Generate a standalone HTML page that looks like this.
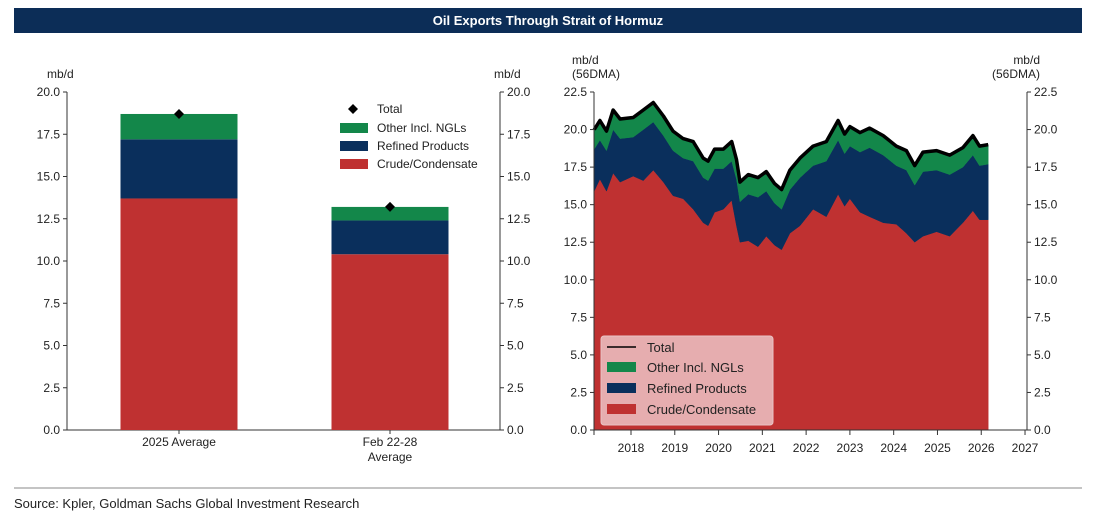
<!DOCTYPE html>
<html><head><meta charset="utf-8"><style>
body{margin:0;background:#fff;width:1101px;height:522px;overflow:hidden;font-family:"Liberation Sans",sans-serif}
svg text{font-family:"Liberation Sans",sans-serif}
</style></head><body>
<svg id="c" width="1101" height="522" xmlns="http://www.w3.org/2000/svg">
<rect x="14" y="8" width="1068" height="25" fill="#0c2d57"/>
<text x="548" y="25" fill="#fff" font-size="13" font-weight="bold" text-anchor="middle">Oil Exports Through Strait of Hormuz</text>
<line x1="14" y1="488" x2="1082" y2="488" stroke="#888" stroke-width="1"/>
<text x="14" y="508" font-size="13" fill="#222">Source: Kpler, Goldman Sachs Global Investment Research</text>
<g id="left"></g><g id="right"></g>
</svg>
<script>
const barCats=["2025 Average","Feb 22-28\nAverage"];
const barCrude=[13.7,10.4];
const barRefined=[3.5,2.0];
const barOther=[1.5,0.8];
const barTotal=[18.7,13.2];
const lYTicks=[0,2.5,5,7.5,10,12.5,15,17.5,20];

const years=[2017.16,2017.29,2017.44,2017.59,2017.75,2018.05,2018.28,2018.51,2018.74,2018.96,2019.19,2019.42,2019.65,2019.76,2019.91,2020.11,2020.30,2020.41,2020.49,2020.68,2020.90,2021.09,2021.28,2021.44,2021.63,2021.86,2022.16,2022.46,2022.73,2022.88,2023.00,2023.23,2023.45,2023.76,2024.06,2024.29,2024.48,2024.67,2024.98,2025.28,2025.58,2025.81,2025.96,2026.16];
const crude=[15.9,16.7,15.9,17.1,16.5,16.9,16.6,17.3,16.5,15.6,15.4,14.7,13.8,13.6,14.5,14.7,15.3,13.6,12.5,12.6,12.2,12.9,12.3,12.0,13.1,13.6,14.7,14.2,15.7,14.9,15.4,14.5,14.2,13.8,13.7,13.1,12.5,12.9,13.2,12.9,13.8,14.6,14.0,14.0];
const refined=[2.8,2.6,2.7,2.9,2.9,2.6,3.4,3.2,3.1,3.0,2.7,3.2,3.0,3.0,2.9,2.7,2.6,3.1,2.7,3.1,3.3,3.0,2.8,2.7,2.9,3.2,2.9,3.7,3.6,3.5,3.5,4.0,4.6,4.5,3.9,4.2,3.8,4.3,4.1,4.1,3.7,3.7,3.6,3.7];
const other=[1.3,1.3,1.3,1.3,1.3,1.3,1.3,1.3,1.3,1.3,1.3,1.3,1.3,1.3,1.3,1.3,1.3,1.3,1.3,1.3,1.3,1.3,1.3,1.3,1.3,1.3,1.3,1.3,1.3,1.3,1.3,1.3,1.3,1.3,1.3,1.3,1.3,1.3,1.3,1.3,1.3,1.3,1.3,1.3];
const rYTicks=[0,2.5,5,7.5,10,12.5,15,17.5,20,22.5];
const xTicks=[2018,2019,2020,2021,2022,2023,2024,2025,2026,2027];

const NS="http://www.w3.org/2000/svg";
const RED="#bf3131",NAVY="#0a2f5c",GREEN="#13874a";
function mk(p,t,a,txt){const e=document.createElementNS(NS,t);for(const k in a)e.setAttribute(k,a[k]);if(txt!==undefined)e.textContent=txt;p.appendChild(e);return e;}

// LEFT
const L=document.getElementById('left');
const lx0=67,lx1=500,y0=430,yTop=92;
const ly=v=>y0-(v/20)*(y0-yTop);
const barCx=[179,390],bw=117;
let e;
e=mk(L,'line',{x1:lx0,y1:yTop,x2:lx0,y2:y0,stroke:'#333'});


e=mk(L,'line',{x1:lx1,y1:yTop,x2:lx1,y2:y0,stroke:'#333'});


e=mk(L,'line',{x1:lx0,y1:y0,x2:lx1,y2:y0,stroke:'#333'});


lYTicks.forEach(v=>{const y=ly(v);
 mk(L,'line',{x1:lx0-4,y1:y,x2:lx0,y2:y,stroke:'#333'});
 mk(L,'line',{x1:lx1,y1:y,x2:lx1+4,y2:y,stroke:'#333'});
 e=mk(L,'text',{x:lx0-7,y:y+4,'font-size':12,'text-anchor':'end',fill:'#222'},v.toFixed(1));
 
 
 e=mk(L,'text',{x:lx1+7,y:y+4,'font-size':12,fill:'#222'},v.toFixed(1));
 
 
});
e=mk(L,'text',{x:47,y:78,'font-size':12,fill:'#222'},'mb/d');


e=mk(L,'text',{x:494,y:78,'font-size':12,fill:'#222'},'mb/d');


barCats.forEach((c,i)=>{
 const cx=barCx[i],x=cx-bw/2;
 const s=[[0,barCrude[i],RED,'crude'],[barCrude[i],barCrude[i]+barRefined[i],NAVY,'refined'],[barCrude[i]+barRefined[i],barCrude[i]+barRefined[i]+barOther[i],GREEN,'other']];
 s.forEach(q=>{e=mk(L,'rect',{x:x,y:ly(q[1]),width:bw,height:ly(q[0])-ly(q[1]),fill:q[2]});
  
  });
 const ty=ly(barTotal[i]);
 e=mk(L,'path',{d:`M${cx} ${ty-5}L${cx+5} ${ty}L${cx} ${ty+5}L${cx-5} ${ty}Z`,fill:'#000'});
 
 
 mk(L,'line',{x1:cx,y1:y0,x2:cx,y2:y0+4,stroke:'#333'});
 c.split('\n').forEach((ln,j)=>{e=mk(L,'text',{x:cx,y:446+j*15,'font-size':12,'text-anchor':'middle',fill:'#222'},ln);
  
  });
});
// left legend
const lg=mk(L,'g',{});


mk(lg,'path',{d:'M353 104L358 109L353 114L348 109Z',fill:'#000'});
[['Total',109],['Other Incl. NGLs',128],['Refined Products',146],['Crude/Condensate',164]].forEach((r,i)=>{
 if(i>0)mk(lg,'rect',{x:340,y:r[1]-5,width:28,height:10,fill:[null,GREEN,NAVY,RED][i]});
 e=mk(lg,'text',{x:377,y:r[1]+4,'font-size':12,fill:'#222'},r[0]);
 
 
});

// RIGHT
const R=document.getElementById('right');
const rx0=594,rx1=1027;
const rxs=yr=>631+(yr-2018)*43.78;
const ry=v=>y0-(v/22.5)*(y0-yTop);
function area(lo,hi,col,name){
 let d='';years.forEach((yr,i)=>{d+=(i?'L':'M')+rxs(yr).toFixed(1)+' '+ry(hi[i]).toFixed(1);});
 for(let i=years.length-1;i>=0;i--)d+='L'+rxs(years[i]).toFixed(1)+' '+ry(lo[i]).toFixed(1);
 const p=mk(R,'path',{d:d+'Z',fill:col,stroke:col,'stroke-width':0.5});
 
 
}
const zero=years.map(()=>0);
const c1=crude.slice(),c2=crude.map((v,i)=>v+refined[i]),c3=c2.map((v,i)=>v+other[i]);
area(zero,c1,RED,'area-crude');
area(c1,c2,NAVY,'area-refined');
area(c2,c3,GREEN,'area-other');
let dl='';years.forEach((yr,i)=>{dl+=(i?'L':'M')+rxs(yr).toFixed(1)+' '+ry(c3[i]).toFixed(1);});
e=mk(R,'path',{d:dl,fill:'none',stroke:'#000','stroke-width':3.5,'stroke-linejoin':'round'});


e=mk(R,'line',{x1:rx0,y1:yTop,x2:rx0,y2:y0,stroke:'#333'});


e=mk(R,'line',{x1:rx1,y1:yTop,x2:rx1,y2:y0,stroke:'#333'});


e=mk(R,'line',{x1:rx0,y1:y0,x2:rx1,y2:y0,stroke:'#333'});


rYTicks.forEach(v=>{const y=ry(v);
 mk(R,'line',{x1:rx0-4,y1:y,x2:rx0,y2:y,stroke:'#333'});
 mk(R,'line',{x1:rx1,y1:y,x2:rx1+4,y2:y,stroke:'#333'});
 e=mk(R,'text',{x:rx0-7,y:y+4,'font-size':12,'text-anchor':'end',fill:'#222'},v.toFixed(1));
 
 
 e=mk(R,'text',{x:rx1+7,y:y+4,'font-size':12,fill:'#222'},v.toFixed(1));
 
 
});
mk(R,'line',{x1:rx0,y1:y0,x2:rx0,y2:y0+5,stroke:'#333'});
xTicks.forEach(t=>{const x=rxs(t);
 mk(R,'line',{x1:x,y1:y0,x2:x,y2:y0+5,stroke:'#333'});
 e=mk(R,'text',{x:x,y:452,'font-size':12,'text-anchor':'middle',fill:'#222'},String(t));
 
 
});
[['mb/d',572,64,'start'],['(56DMA)',572,78,'start'],['mb/d',1040,64,'end'],['(56DMA)',1040,78,'end']].forEach(t=>{
 e=mk(R,'text',{x:t[1],y:t[2],'font-size':12,'text-anchor':t[3],fill:'#222'},t[0]);
 
 
});
const rg=mk(R,'g',{});


mk(rg,'rect',{x:601,y:336,width:172,height:89,rx:3,fill:'#e6adaf',stroke:'#e8c4c5'});
mk(rg,'line',{x1:607,y1:347,x2:636,y2:347,stroke:'#000','stroke-width':1.5});
[['Total',347],['Other Incl. NGLs',367],['Refined Products',388],['Crude/Condensate',409]].forEach((r,i)=>{
 if(i>0)mk(rg,'rect',{x:607,y:r[1]-5,width:29,height:10,fill:[null,GREEN,NAVY,RED][i]});
 e=mk(rg,'text',{x:647,y:r[1]+5,'font-size':13,fill:'#222'},r[0]);
 
 
});
</script>
</body></html>
